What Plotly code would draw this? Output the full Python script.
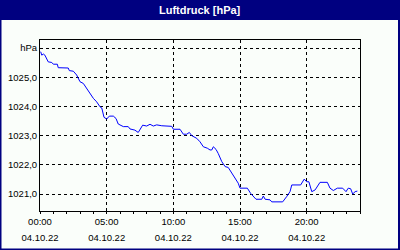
import plotly.graph_objects as go

# ---- data ----
minutes = [3, 8, 15, 22, 37, 53, 60, 78, 82, 127, 132, 150, 165, 180, 195, 210, 225, 240,
           255, 270, 278, 288, 300, 312, 330, 342, 352, 368, 375, 397, 405, 427, 438, 442,
           462, 480, 495, 510, 525, 548, 593, 600, 630, 645, 660, 672, 683, 705, 720, 735,
           753, 765, 773, 780, 792, 802, 818, 833, 847, 863, 878, 892, 900, 933, 948, 963,
           972, 998, 1005, 1013, 1035, 1043, 1092, 1110, 1125, 1133, 1173, 1189, 1200, 1210,
           1223, 1238, 1260, 1293, 1305, 1320, 1338, 1362, 1377, 1387, 1398, 1407, 1418, 1428]
pressure = [1025.88, 1025.76, 1025.80, 1025.76, 1025.53, 1025.51, 1025.45, 1025.45, 1025.33,
            1025.32, 1025.23, 1025.21, 1025.08, 1024.85, 1024.79, 1024.62, 1024.45, 1024.28,
            1024.16, 1023.99, 1023.95, 1023.63, 1023.57, 1023.67, 1023.67, 1023.59, 1023.40,
            1023.35, 1023.31, 1023.31, 1023.23, 1023.19, 1023.11, 1023.11, 1023.36, 1023.33,
            1023.39, 1023.33, 1023.37, 1023.34, 1023.32, 1023.22, 1023.22, 1023.05, 1023.05,
            1023.11, 1023.00, 1022.91, 1022.79, 1022.62, 1022.57, 1022.51, 1022.51, 1022.62,
            1022.53, 1022.39, 1022.11, 1021.94, 1021.91, 1021.71, 1021.54, 1021.37, 1021.20,
            1021.20, 1021.02, 1020.91, 1020.82, 1020.82, 1020.93, 1020.82, 1020.80, 1020.73,
            1020.73, 1020.91, 1021.08, 1021.31, 1021.31, 1021.51, 1021.42, 1021.42, 1021.08,
            1021.14, 1021.40, 1021.40, 1021.20, 1021.12, 1021.20, 1021.20, 1021.08, 1021.20,
            1021.18, 1021.00, 1021.08, 1021.10]
times = ["2022-10-04 %02d:%02d" % (m // 60, m % 60) for m in minutes]

x_tickvals = ["2022-10-04 00:00", "2022-10-04 05:00", "2022-10-04 10:00",
              "2022-10-04 15:00", "2022-10-04 20:00"]
x_ticktime = ["00:00", "05:00", "10:00", "15:00", "20:00"]
x_tickdate = ["04.10.22", "04.10.22", "04.10.22", "04.10.22", "04.10.22"]
y_tickvals = [1021, 1022, 1023, 1024, 1025, 1026]
y_ticktext = ["1021,0", "1022,0", "1023,0", "1024,0", "1025,0", "hPa"]
title = "Luftdruck [hPa]"

# ---- layout ----
W, H = 400, 250
ML, MR, MT, MB = 40, 40, 40, 20
PLOT_BOTTOM = 211          # pixel row of the x axis line
PW, PH = W - ML - MR, H - MT - MB
DOM0 = (H - MB - PLOT_BOTTOM) / PH
NAVY = "#000080"
FONT = "Liberation Sans"

def px_x(p):
    return (p - ML) / PW

def px_y(p):
    return 1 - (p - MT) / PH

fig = go.Figure()
fig.add_trace(go.Scatter(x=times, y=pressure, mode="lines",
                         line=dict(color="#0000FF", width=1), hoverinfo="skip",
                         showlegend=False))
fig.add_trace(go.Scatter(x=times, y=pressure, mode="lines", xaxis="x2",
                         line=dict(color="rgba(0,0,0,0)", width=0), hoverinfo="skip",
                         showlegend=False))

xrange = ["2022-10-04 00:00", "2022-10-05 00:00"]
fig.update_layout(
    width=W, height=H, autosize=False,
    margin=dict(l=ML, r=MR, t=MT, b=MB, pad=0),
    paper_bgcolor="#FAFEFA", plot_bgcolor="#FAFEFA",
    font=dict(family=FONT, size=9.5, color="black"),
    xaxis=dict(type="date", range=xrange, tickmode="array", tickvals=x_tickvals,
               ticktext=x_ticktime, showline=True, linecolor="black", linewidth=1,
               mirror=True, showgrid=True, gridcolor="black", gridwidth=1,
               griddash="3px,3px", ticks="outside", ticklen=2, tickcolor="black",
               automargin=False, anchor="y",
               minor=dict(ticks="outside", ticklen=2, tickcolor="black",
                          dtick=3600000, tick0="2022-10-04 00:00", showgrid=False),
               zeroline=False),
    xaxis2=dict(type="date", range=xrange, overlaying="x", side="bottom",
                anchor="free", position=0,
                tickmode="array", tickvals=x_tickvals, ticktext=x_tickdate,
                showline=False, showgrid=False, ticks="",
                automargin=False, zeroline=False),
    yaxis=dict(range=[1020.417, 1026.28], domain=[DOM0, 1], tickmode="array",
               tickvals=y_tickvals,
               ticktext=y_ticktext, showline=True, linecolor="black", linewidth=1,
               mirror=True, showgrid=True, gridcolor="black", gridwidth=1,
               griddash="3px,3px", ticks="", zeroline=False,
               automargin=False),
    shapes=[
        dict(type="rect", xref="paper", yref="paper", x0=px_x(0), x1=px_x(W),
             y0=px_y(20), y1=px_y(0), fillcolor=NAVY, line=dict(width=0)),
        dict(type="rect", xref="paper", yref="paper", x0=px_x(0), x1=px_x(1.5),
             y0=px_y(H), y1=px_y(0), fillcolor=NAVY, line=dict(width=0)),
        dict(type="rect", xref="paper", yref="paper", x0=px_x(W - 2), x1=px_x(W),
             y0=px_y(H), y1=px_y(0), fillcolor=NAVY, line=dict(width=0)),
        dict(type="rect", xref="paper", yref="paper", x0=px_x(0), x1=px_x(W),
             y0=px_y(H), y1=px_y(H - 1.5), fillcolor=NAVY, line=dict(width=0)),
    ],
    annotations=[
        dict(text="<b>%s</b>" % title, xref="paper", yref="paper",
             x=px_x(W / 2), y=px_y(10), showarrow=False, xanchor="center",
             yanchor="middle", font=dict(family=FONT, size=11, color="white")),
    ],
)

fig.write_html("out.html")
